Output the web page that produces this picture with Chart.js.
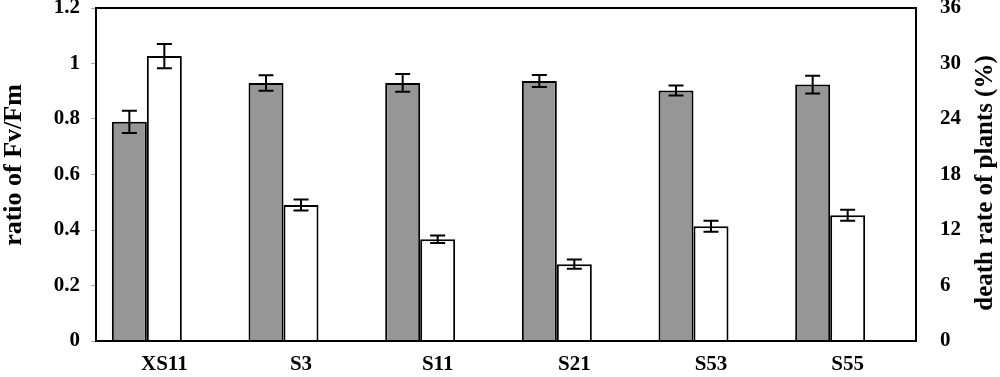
<!DOCTYPE html>
<html>
<head>
<meta charset="utf-8">
<script src="https://cdn.jsdelivr.net/npm/chart.js@4"></script>
<style>
  html, body { margin: 0; padding: 0; background: #fff; }
  #wrap { width: 1000px; height: 377px; }
</style>
</head>
<body>
<div id="wrap"><canvas id="chart"></canvas></div>
<script>
var categories = ["XS11", "S3", "S11", "S21", "S53", "S55"];
// ratio of Fv/Fm (left axis)
var fvfm = [0.79, 0.93, 0.93, 0.937, 0.903, 0.924];
var fvfmErr = [0.04, 0.028, 0.032, 0.022, 0.018, 0.032];
// death rate of plants, % (right axis)
var death = [30.8, 14.7, 11.0, 8.3, 12.4, 13.6];
var deathErr = [1.3, 0.6, 0.4, 0.5, 0.6, 0.6];
var leftTicks = [0, 0.2, 0.4, 0.6, 0.8, 1, 1.2];
var rightTicks = [0, 6, 12, 18, 24, 30, 36];

var serif = "'Liberation Serif', 'Times New Roman', serif";
var tickFont = { family: serif, size: 21, weight: "bold" };

// error bars drawn on top of each bar
var errorBars = {
  id: "errorBars",
  afterDatasetsDraw: function(chart) {
    var ctx = chart.ctx;
    ctx.save();
    ctx.strokeStyle = "#000";
    ctx.lineWidth = 2;
    chart.data.datasets.forEach(function(ds, i) {
      if (!ds.errors) return;
      var meta = chart.getDatasetMeta(i);
      var scale = chart.scales[ds.yAxisID];
      meta.data.forEach(function(bar, j) {
        var v = ds.data[j], e = ds.errors[j];
        var top = scale.getPixelForValue(v + e);
        var bot = scale.getPixelForValue(v - e);
        var x = bar.x;
        ctx.beginPath();
        ctx.moveTo(x, top); ctx.lineTo(x, bot);
        ctx.moveTo(x - 7.5, top); ctx.lineTo(x + 7.5, top);
        ctx.moveTo(x - 7.5, bot); ctx.lineTo(x + 7.5, bot);
        ctx.stroke();
      });
    });
    ctx.restore();
  }
};

// plot frame and the two axis titles (both read bottom to top)
function drawTitle(ctx, text, x, y, size) {
  ctx.save();
  ctx.fillStyle = "#000";
  ctx.font = "bold " + size + "px " + serif;
  ctx.textAlign = "center";
  ctx.textBaseline = "middle";
  ctx.translate(x, y);
  ctx.rotate(-Math.PI / 2);
  ctx.fillText(text, 0, 0);
  ctx.restore();
}

var frame = {
  id: "frame",
  afterDraw: function(chart) {
    var ctx = chart.ctx, a = chart.chartArea;
    ctx.save();
    ctx.strokeStyle = "#000";
    ctx.lineWidth = 2;
    ctx.strokeRect(a.left, a.top, a.right - a.left, a.bottom - a.top);
    ctx.restore();
    drawTitle(ctx, "ratio of Fv/Fm", 14, 165, 26);
    drawTitle(ctx, "death rate of plants (%)", 986, 183, 25);
  }
};

function fixY(width) {
  return function(s) {
    s.width = width;
    s.paddingTop = 8;
    s.paddingBottom = 0;
  };
}

var ctx = document.getElementById("chart").getContext("2d");
var chart = new Chart(ctx, {
  type: "bar",
  data: {
    labels: categories,
    datasets: [
      {
        label: "Fv/Fm",
        data: fvfm,
        errors: fvfmErr,
        yAxisID: "y",
        backgroundColor: "#969696",
        borderColor: "#000",
        borderWidth: 2
      },
      {
        label: "death rate",
        data: death,
        errors: deathErr,
        yAxisID: "y1",
        backgroundColor: "#fff",
        borderColor: "#000",
        borderWidth: 2
      },
      {
        // empty slot, keeps the pair left of the category centre
        label: "",
        data: categories.map(function() { return null; }),
        yAxisID: "y",
        backgroundColor: "rgba(0,0,0,0)",
        borderWidth: 0
      }
    ]
  },
  options: {
    responsive: true,
    maintainAspectRatio: false,
    animation: false,
    layout: { padding: 0 },
    categoryPercentage: 0.768,
    barPercentage: 1,
    plugins: {
      legend: { display: false },
      tooltip: { enabled: false }
    },
    scales: {
      x: {
        grid: { display: false },
        border: { display: false },
        ticks: { color: "#000", font: tickFont, padding: 3 },
        afterFit: function(s) { s.height = 36; }
      },
      y: {
        position: "left",
        min: 0,
        max: 1.2,
        afterBuildTicks: function(s) {
          s.ticks = leftTicks.map(function(v) { return { value: v }; });
        },
        ticks: {
          color: "#000", font: tickFont, padding: 11,
          callback: function(v) { return String(v); }
        },
        grid: { drawOnChartArea: false, tickLength: 5, color: "#aaa" },
        border: { display: false },
        afterFit: fixY(96)
      },
      y1: {
        position: "right",
        min: 0,
        max: 36,
        afterBuildTicks: function(s) {
          s.ticks = rightTicks.map(function(v) { return { value: v }; });
        },
        ticks: { color: "#000", font: tickFont, padding: 16 },
        grid: { display: false },
        border: { display: false },
        afterFit: fixY(84)
      }
    }
  },
  plugins: [errorBars, frame]
});
</script>
</body>
</html>
